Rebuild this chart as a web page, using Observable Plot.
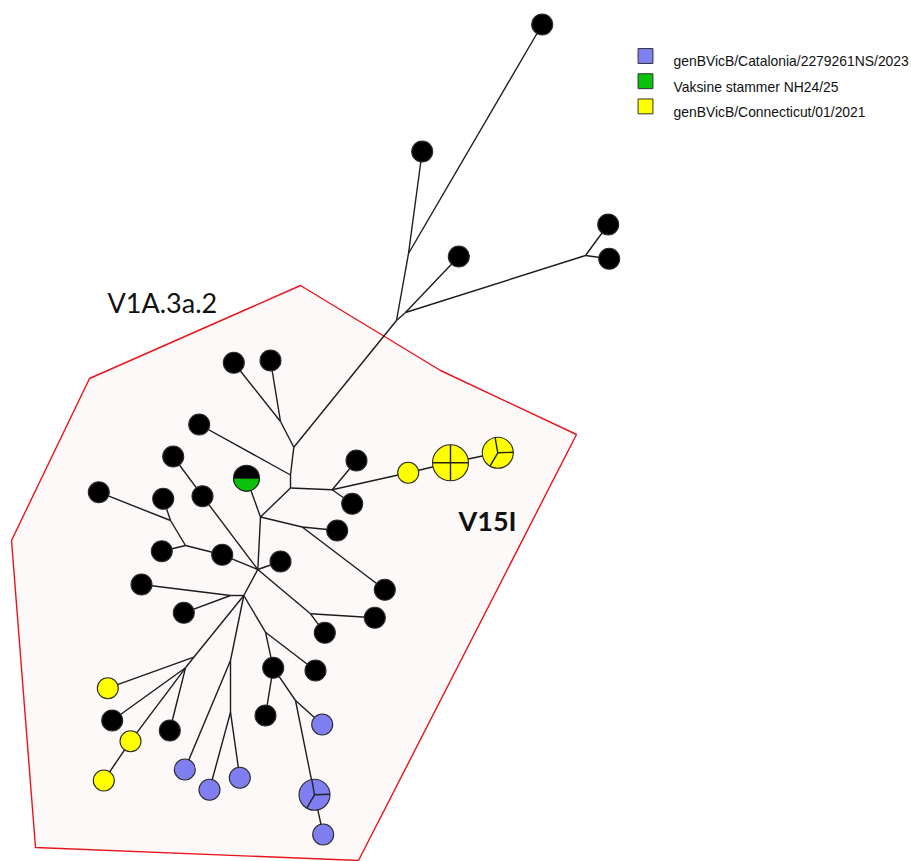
<!DOCTYPE html>
<html>
<head>
<meta charset="utf-8">
<script src="https://cdn.jsdelivr.net/npm/d3@7"></script>
<script src="https://cdn.jsdelivr.net/npm/@observablehq/plot@0.6"></script>
<style>
  html, body { margin: 0; padding: 0; background: #ffffff; }
  #chart svg { display: block; }
</style>
</head>
<body>
<div id="chart"></div>
<script>
// ---- Data -------------------------------------------------------------
// Haplotypes: [id, x, y, group, sequence count]
const haplotypes = [
  ["h1", 541.7, 24, "other", 1],
  ["h2", 421.7, 151, "other", 1],
  ["h3", 458.3, 256, "other", 1],
  ["h4", 607.7, 224, "other", 1],
  ["h5", 608.7, 258.3, "other", 1],
  ["h6", 233.3, 362.3, "other", 1],
  ["h7", 270, 360, "other", 1],
  ["h8", 198.7, 424, "other", 1],
  ["h9", 172.7, 456, "other", 1],
  ["h10", 202, 495.7, "other", 1],
  ["h11", 98.3, 491.7, "other", 1],
  ["h12", 162.7, 498.3, "other", 1],
  ["h13", 161.3, 550.7, "other", 1],
  ["h14", 221.7, 554.3, "other", 1],
  ["h15", 280, 561, "other", 1],
  ["h16", 246, 477.7, "vaccine", 2],
  ["h17", 356, 460, "other", 1],
  ["h18", 351.7, 503.3, "other", 1],
  ["h19", 407.7, 472.3, "connecticut", 1],
  ["h20", 450, 462.3, "connecticut", 4],
  ["h21", 497.3, 452.3, "connecticut", 3],
  ["h22", 336.7, 530, "other", 1],
  ["h23", 384.3, 589.3, "other", 1],
  ["h24", 374.3, 617.3, "other", 1],
  ["h25", 324.3, 632.3, "other", 1],
  ["h26", 141, 584, "other", 1],
  ["h27", 183.3, 612.3, "other", 1],
  ["h28", 315, 670, "other", 1],
  ["h29", 272.7, 667.3, "other", 1],
  ["h30", 265, 715, "other", 1],
  ["h31", 321.7, 724, "catalonia", 1],
  ["h32", 314, 794.3, "catalonia", 3],
  ["h33", 322.7, 834, "catalonia", 1],
  ["h34", 107.3, 687.7, "connecticut", 1],
  ["h35", 111.7, 720, "other", 1],
  ["h36", 130, 740.7, "connecticut", 1],
  ["h37", 169.3, 730, "other", 1],
  ["h38", 103.3, 780, "connecticut", 1],
  ["h39", 184.3, 769, "catalonia", 1],
  ["h40", 209, 789.3, "catalonia", 1],
  ["h41", 239.3, 777.3, "catalonia", 1]
];

// Median vectors (unsampled junctions): [id, x, y]
const junctions = [
  ["jA", 408, 253], ["jB", 396, 320], ["jC", 405, 312], ["jR", 585, 255],
  ["jD", 293.3, 446.7], ["jE", 280, 421], ["jF", 290, 474.5], ["jG", 290, 487.5],
  ["jH", 331.7, 489.3], ["jI", 260, 516.5], ["jJ", 301.7, 526.5], ["jK", 257.3, 569],
  ["jM", 310, 613.3], ["jU", 185, 545], ["jT", 170, 520], ["jL", 243.3, 595],
  ["jN", 230, 595], ["jO", 193.3, 656.7], ["jO2", 185, 667.3], ["jP", 230, 660],
  ["jP2", 230, 711.7], ["jQ", 265, 631.7], ["jS", 295, 700]
];

// Mutational links
const edges = [
  ["jA","h1"],["jA","h2"],["jA","jB"],["jB","jC"],["jC","h3"],["jC","jR"],["jR","h4"],["jR","h5"],
  ["jB","jD"],["jD","jE"],["jE","h6"],["jE","h7"],["jD","jF"],["jF","h8"],["jF","jG"],
  ["jG","jH"],["jH","h17"],["jH","h18"],["jH","h19"],["h19","h20"],["h20","h21"],
  ["jG","jI"],["jI","h16"],["jI","jJ"],["jJ","h22"],["jJ","h23"],["jI","jK"],
  ["jK","h15"],["jK","h14"],["jK","h10"],["h10","h9"],["jK","jM"],["jM","h24"],["jM","h25"],
  ["h14","jU"],["jU","h13"],["jU","jT"],["jT","h11"],["jT","h12"],
  ["jK","jL"],["jL","jN"],["jN","h26"],["jN","h27"],
  ["jL","jO"],["jO","h34"],["jO","jO2"],["jO2","h35"],["jO2","h36"],["jO2","h37"],["h36","h38"],
  ["jL","jP"],["jP","h39"],["jP","jP2"],["jP2","h40"],["jP2","h41"],
  ["jL","jQ"],["jQ","h28"],["jQ","h29"],["h29","h30"],["h29","jS"],["jS","h31"],["jS","h32"],["h32","h33"]
];

// Clade outline (V1A.3a.2)
const cladeOutline = [
  [300, 285], [440, 370], [576, 434], [358, 860], [35, 847], [11, 540], [89, 378], [300, 285]
];

// Annotations: [text, x, baseline y]
const cladeLabels = [["V1A.3a.2", 107, 312.5]];
const mutationLabels = [["V15I", 458, 530]];

// Legend
const legendGroups = ["catalonia", "vaccine", "connecticut"];
const legendLabels = ["genBVicB/Catalonia/2279261NS/2023", "Vaksine stammer NH24/25", "genBVicB/Connecticut/01/2021"];
const groupColors = {other: "#000000", catalonia: "#7f7ff2", vaccine: "#0bc10b", connecticut: "#ffff00"};

// ---- Derived tables ----------------------------------------------------
const hap = haplotypes.map(([id, x, y, group, count]) => ({id, x, y, group, count}));
const pos = new Map();
hap.forEach(d => pos.set(d.id, d));
junctions.forEach(([id, x, y]) => pos.set(id, {id, x, y}));
const links = edges.map(([a, b]) => ({a: pos.get(a), b: pos.get(b)}));
const outline = cladeOutline.map(([x, y]) => ({x, y}));
const toNote = ([text, x, y]) => ({text, x, y});
const legend = legendGroups.map((g, i) => ({group: g, label: legendLabels[i], i}));

// Custom symbols for pie-style haplotype circles
const halfBottom = {draw(ctx, size) { const r = Math.sqrt(size / Math.PI); ctx.moveTo(r, 0); ctx.arc(0, 0, r, 0, Math.PI); ctx.closePath(); }};
const spokes = (angles) => ({draw(ctx, size) {
  const r = Math.sqrt(size / Math.PI);
  for (const a of angles) { const t = a * Math.PI / 180; ctx.moveTo(0, 0); ctx.lineTo(r * Math.cos(t), r * Math.sin(t)); }
}});
const crossSym = {draw(ctx, size) { const r = Math.sqrt(size / Math.PI); ctx.moveTo(-r, 0); ctx.lineTo(r, 0); ctx.moveTo(0, -r); ctx.lineTo(0, r); }};
const threeSym = spokes([-100, -2, 120]);

const W = 911, H = 861;
const legendX = 645, legendY0 = 55.5, legendStep = 25.2;
const labelSize = 27;
const labelFont = "Lato, 'Open Sans', sans-serif";

const chart = Plot.plot({
  width: W,
  height: H,
  margin: 0,
  style: {background: "#ffffff"},
  x: {domain: [0, W], range: [0, W], axis: null},
  y: {domain: [0, H], range: [0, H], axis: null},
  r: {type: "linear", domain: [0, 4], range: [8, 18]},
  marks: [
    Plot.line(outline, {x: "x", y: "y", stroke: "#e8141a", strokeWidth: 1.4, fill: "#fdf9f9", curve: "linear"}),
    Plot.link(links, {x1: d => d.a.x, y1: d => d.a.y, x2: d => d.b.x, y2: d => d.b.y, stroke: "#1c1c1c", strokeWidth: 1.4}),
    Plot.dot(hap, {x: "x", y: "y", r: "count", fill: d => d.group === "vaccine" ? "#000000" : groupColors[d.group], stroke: "#2a2a2a", strokeWidth: 1.1}),
    Plot.dot(hap.filter(d => d.group === "vaccine"), {x: "x", y: "y", r: "count", symbol: halfBottom, fill: groupColors.vaccine, stroke: "#1a1a1a", strokeWidth: 1}),
    Plot.dot(hap.filter(d => d.count === 4), {x: "x", y: "y", r: "count", symbol: crossSym, fill: "none", stroke: "#222", strokeWidth: 1.4}),
    Plot.dot(hap.filter(d => d.count === 3), {x: "x", y: "y", r: "count", symbol: threeSym, fill: "none", stroke: "#222", strokeWidth: 1.4}),
    Plot.text(cladeLabels.map(toNote), {x: "x", y: d => d.y - 0.32 * labelSize, text: "text", textAnchor: "start", lineAnchor: "middle", fontSize: labelSize, fontWeight: "normal", fontFamily: labelFont, fill: "#111"}),
    Plot.text(mutationLabels.map(toNote), {x: "x", y: d => d.y - 0.32 * labelSize, text: "text", textAnchor: "start", lineAnchor: "middle", fontSize: labelSize, fontWeight: "bold", fontFamily: labelFont, fill: "#111"}),
    Plot.dot(legend, {x: () => legendX, y: d => legendY0 + d.i * legendStep, symbol: "square", r: 8.4, fill: d => groupColors[d.group], stroke: "#333", strokeWidth: 1}),
    Plot.text(legend, {x: () => legendX + 28, y: d => legendY0 + 6 + d.i * legendStep, text: "label", textAnchor: "start", lineAnchor: "middle", fontSize: 13.9, fontFamily: "'Liberation Sans', Arial, sans-serif", fill: "#111"})
  ]
});

document.getElementById("chart").appendChild(chart);
</script>
</body>
</html>
